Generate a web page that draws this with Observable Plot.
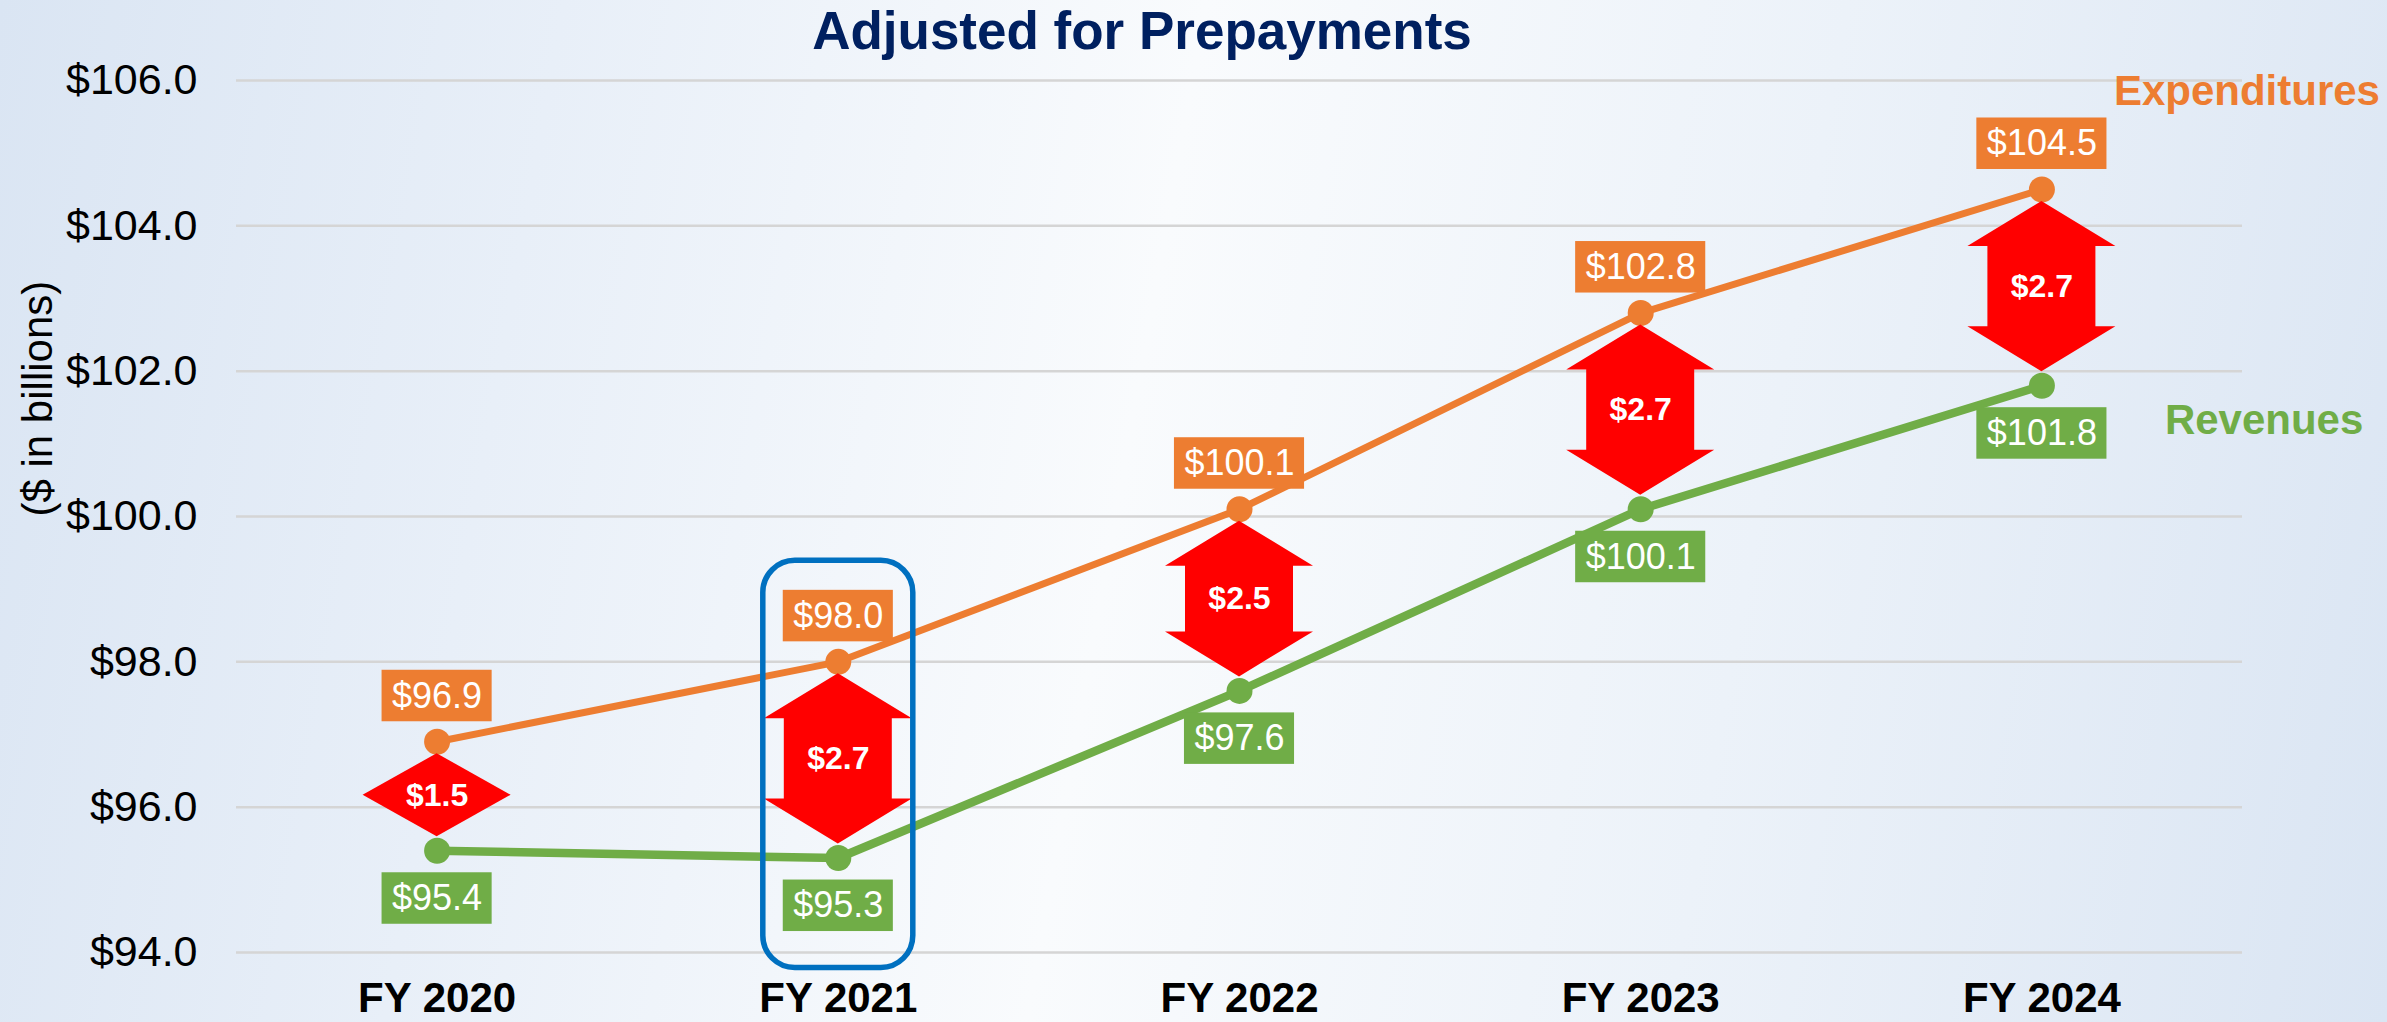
<!DOCTYPE html>
<html>
<head>
<meta charset="utf-8">
<script src="https://cdn.jsdelivr.net/npm/d3@7"></script>
<script src="https://cdn.jsdelivr.net/npm/@observablehq/plot@0.6"></script>
<style>
html, body { margin: 0; padding: 0; }
#wrap {
  position: relative; width: 2387px; height: 1022px; overflow: hidden;
  background: linear-gradient(100deg, #dae5f3 0%, #e8eff8 22%, #f9fbfd 47%, #ecf2f9 72%, #dae5f3 100%);
  font-family: "Liberation Sans", Arial, sans-serif;
}
#chart { position: absolute; left: 0; top: 0; }
#title {
  position: absolute; left: 0; top: 4px; width: 2284px; text-align: center;
  font-weight: bold; font-size: 53px; line-height: 53px; color: #002060;
}
</style>
</head>
<body>
<div id="wrap"><div id="chart"></div><div id="title"></div></div>
<script>
// ---- data ----
const chartTitle = "Adjusted for Prepayments";
const yLabel = "($ in billions)";
const years = ["FY 2020", "FY 2021", "FY 2022", "FY 2023", "FY 2024"];
const expenditures = [96.9, 98.0, 100.1, 102.8, 104.5];
const revenues = [95.4, 95.3, 97.6, 100.1, 101.8];
const yTicks = [94, 96, 98, 100, 102, 104, 106];
const seriesNames = ["Expenditures", "Revenues"];
const highlightYear = "FY 2021";

// ---- styles ----
const expColor = "#ED7D31";
const revColor = "#70AD47";
const arrowColor = "#FF0000";
const boxColor = "#0070C0";
const FONT = "'Liberation Sans', Arial, sans-serif";

document.getElementById("title").textContent = chartTitle;

const W = 2387, H = 1022;
const mL = 236, mR = 145, mT = 80, mB = 70;
const kx = (W - mL - mR) / years.length;                       // px per category
const ky = (H - mT - mB) / (yTicks[yTicks.length - 1] - yTicks[0]); // px per $1B

const fmt = v => "$" + v.toFixed(1);
const rows = years.map((y, i) => ({ i, year: y, exp: expenditures[i], rev: revenues[i] }));

// value label boxes
const ctx = document.createElement("canvas").getContext("2d");
ctx.font = "36px 'Liberation Sans', Arial, sans-serif";
const expLabels = rows.map(r => ({ i: r.i, text: fmt(r.exp), y1: r.exp + 20 / ky, y2: r.exp + 71.5 / ky }));
const revLabels = rows.map(r => ({ i: r.i, text: fmt(r.rev), y1: r.rev - 73.5 / ky, y2: r.rev - 22 / ky }));
[...expLabels, ...revLabels].forEach(d => {
  d.hw = (ctx.measureText(d.text).width + 20) / 2 / kx;
  d.yc = (d.y1 + d.y2) / 2;
});

// double arrows between the series
const arrowPts = [];
const arrowMid = [];
rows.forEach(r => {
  const T = r.exp - 12 / ky, B = r.rev + 14 / ky;
  const h = Math.min(45 / ky, (T - B) / 2);
  const HW = 74 / kx, SW = 54 / kx;
  let pts;
  if (T - B > 2 * h + 1e-9) pts = [[T, 0], [T - h, HW], [T - h, SW], [B + h, SW], [B + h, HW], [B, 0]];
  else pts = [[T, 0], [(T + B) / 2, HW], [B, 0]];
  pts.forEach(([y, hw]) => arrowPts.push({ key: r.year, i: r.i, y, hw }));
  arrowMid.push({ i: r.i, y: (T + B) / 2, text: fmt(r.exp - r.rev) });
});

// highlight box
const hi = years.indexOf(highlightYear);
const hiBox = [{
  x1: hi - 75 / kx, x2: hi + 75 / kx,
  y1: revenues[hi] - 110 / ky, y2: expenditures[hi] + 101 / ky
}];

const last = years.length - 1;
const legend = [
  { name: seriesNames[0], i: last, v: expenditures[last], color: expColor, dx: 72, dy: -98 },
  { name: seriesNames[1], i: last, v: revenues[last], color: revColor, dx: 123, dy: 35 }
];

const chart = Plot.plot({
  width: W, height: H,
  marginLeft: mL, marginRight: mR, marginTop: mT, marginBottom: mB,
  style: { background: "transparent", fontFamily: FONT, overflow: "visible" },
  x: { type: "linear", domain: [-0.5, years.length - 0.5] },
  y: { domain: [yTicks[0], yTicks[yTicks.length - 1]] },
  marks: [
    Plot.gridY(yTicks, { stroke: "#d5d5d5", strokeOpacity: 1, strokeWidth: 2.5 }),
    Plot.axisY(yTicks, { tickSize: 0, tickPadding: 39, tickFormat: d => "$" + d.toFixed(1), fontSize: 43, fill: "black", label: null }),
    Plot.axisX(d3.range(years.length), { tickSize: 0, tickPadding: 30, tickFormat: i => years[i], fontSize: 42, fontWeight: "bold", fill: "black", label: null }),
    Plot.text([yLabel], { text: d => d, frameAnchor: "left", dx: -198, rotate: -90, fontSize: 42, fill: "black" }),
    Plot.line(rows, { x: "i", y: "exp", stroke: expColor, strokeWidth: 7 }),
    Plot.line(rows, { x: "i", y: "rev", stroke: revColor, strokeWidth: 8.5 }),
    Plot.dot(rows, { x: "i", y: "exp", r: 13, fill: expColor }),
    Plot.dot(rows, { x: "i", y: "rev", r: 13, fill: revColor }),
    Plot.rect(expLabels, { x1: d => d.i - d.hw, x2: d => d.i + d.hw, y1: "y1", y2: "y2", fill: expColor }),
    Plot.rect(revLabels, { x1: d => d.i - d.hw, x2: d => d.i + d.hw, y1: "y1", y2: "y2", fill: revColor }),
    Plot.text([...expLabels, ...revLabels], { x: "i", y: "yc", text: "text", fill: "white", fontSize: 36 }),
    Plot.areaX(arrowPts, { y: "y", x1: d => d.i - d.hw, x2: d => d.i + d.hw, z: "key", fill: arrowColor, curve: "linear" }),
    Plot.text(arrowMid, { x: "i", y: "y", text: "text", fill: "white", fontSize: 32, fontWeight: "bold" }),
    Plot.rect(hiBox, { x1: "x1", x2: "x2", y1: "y1", y2: "y2", fill: "none", stroke: boxColor, strokeWidth: 5.5, rx: 32 }),
    Plot.text(legend.slice(0, 1), { x: "i", y: "v", text: "name", dx: legend[0].dx, dy: legend[0].dy, textAnchor: "start", fontSize: 42, fontWeight: "bold", fill: expColor }),
    Plot.text(legend.slice(1, 2), { x: "i", y: "v", text: "name", dx: legend[1].dx, dy: legend[1].dy, textAnchor: "start", fontSize: 42, fontWeight: "bold", fill: revColor })
  ]
});
document.getElementById("chart").appendChild(chart);
</script>
</body>
</html>
